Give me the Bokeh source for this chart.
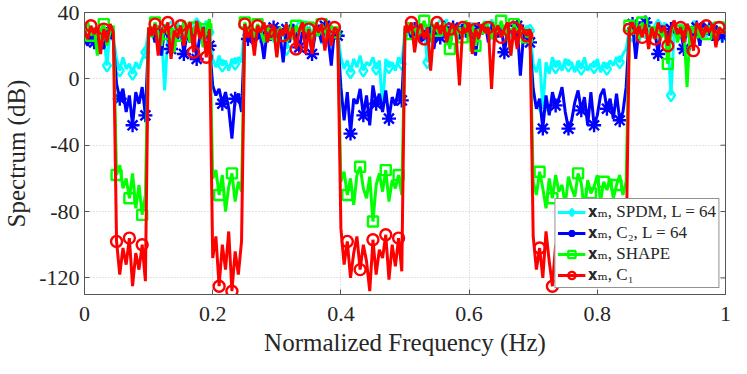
import numpy as np
from bokeh.plotting import figure
from bokeh.models import Range1d, Legend, LegendItem, FixedTicker, PrintfTickFormatter
from bokeh.embed import file_html
from bokeh.resources import INLINE

# frequency grid step (normalized Hz)
f_step = 0.005

# ---- series values (dB), listed band by band ----
spdm = (
    [28, 24, 30, 26, 31, 22, 27, 8, 30, 25]
    + [12, 5, 13, 6, 9, 3, 10, 6, 12, 16]
    + [30, 27, 33, 24, 29, -7, 26, 31, 22, 34, 28, 25, 31, 23, 29, 33, 26, 30, 35, 28]
    + [12, 7, 14, 8, 11, 5, 12, 9, 13, 10]
    + [33, 27, 30, 24, 31, 28, 34, 22, 29, 26, 32, 25, 30, 18, 28, 33, 24, 31, 27, 35,
       23, 30, 26, 32, 21, 29, 34, 25, 30, 27]
    + [13, 6, 11, 4, 12, 7, 14, 5, 10, 8, 13, 6, 11, -18, 12, 7, 10, 5, 13, 9]
    + [30, 26, 33, 28, 35, 24, 31, 10, 34, 29, 25, 32, 28, 36, 23, 30, 27, 33, 26, 31,
       29, 34, 24, 30, 28, 35, 26, 32, 22, 29, 33, 27, 31, 25, 34, 28, 30, 26, 32, 29]
    + [9, 4, 12, -18, 10, 3, 13, 7, 11, 5, 12, 8, 10, 4, 11, 6, 13, 5, 9, 7,
       12, 4, 10, 6, 11, 8, 13, 10, 15, 18]
    + [30, 26, 33, 22, 31, 28, 35, 25, 29, 32, 27, 34, 24, -10, 30, 26, 33, 28, 31, 23,
       35, 29, 27, 32, 25, 30, 34, 28, 31, 26, 29]
)

c2 = (
    [24, 20, 28, 22, 30, 25, 18, 27, 31, 23]
    + [-3, -12, -6, -20, -10, -28, -8, -15, -5, -22]
    + [26, 30, 22, 28, 14, 31, 25, 18, 29, 24, 32, 15, 27, 22, 30, 12, 26, 31, 28, 20]
    + [-4, -10, -6, -15, -8, -18, -36, -12, -9, -20]
    + [30, 24, 28, 20, 32, 26, 12, 29, 23, 31, 25, 27, 10, 30, 22, 33, 26, 19, 28, 24,
       31, 15, 27, 29, 22, 32, 25, 8, 30, 26]
    + [-5, -25, -8, -33, -12, -15, -6, -22, -10, -28, -4, -15, -9, -20, -7, -24, -11, -16, -6, -13]
    + [28, 32, 24, 30, 34, 22, 29, 26, 33, 18, 30, 25, 35, 27, 20, 31, 28, 24, 33, 29,
       26, 32, 14, 30, 27, 34, 22, 29, 31, 25, 33, 16, 28, 30, 24, 32, 2, 27, 29, 22]
    + [-6, -18, -12, -30, -10, -22, -8, -16, -12, -5, -20, -30, -25, -14, -7, -19, -11, -28, -8, -28,
       -22, -10, -6, -18, -12, -24, -9, -25, -20, -5]
    + [29, 33, 12, 30, 26, 34, 22, 31, 28, 15, 32, 27, 24, 30, 35, 26, 29, 18, 33, 28,
       25, 31, 20, 34, 27, 30, 23, 32, 29, 26, 31]
)

shape = (
    [30, 34, 26, 31, 14, 29, 33, 20, 28, 32]
    + [-58, -52, -66, -60, -72, -57, -78, -64, -82, -70]
    + [31, 25, 34, 28, 20, 33, 27, 30, 16, 32, 26, 35, 29, 22, 31, 27, 34, 19, 30, 36]
    + [-60, -55, -70, -58, -80, -65, -57, -74, -62, -68]
    + [34, 28, 31, 25, 33, 29, 22, 32, 27, 30, 14, 31, 26, 33, 28, 24, 32, 29, 35, 27,
       31, 20, 30, 26, 33, 29, 25, 32, 28, 31]
    + [-62, -56, -70, -60, -76, -58, -53, -66, -72, -59, -86, -64, -57, -68, -55, -74, -61, -66, -58, -70]
    + [30, 34, 27, 32, 24, 31, 35, 28, 22, 33, 29, 26, 34, 30, 18, 32, 27, 31, 25, 35,
       29, 33, 20, 30, 27, 34, 31, 24, 32, 28, 35, 26, 30, 14, 33, 29, 27, 31, 25, 30]
    + [-62, -70, -56, -66, -78, -60, -72, -58, -68, -64, -76, -59, -66, -71, -57, -63, -80, -61, -69, -65,
       -58, -74, -62, -67, -60, -72, -64, -58, -70, -62]
    + [32, 27, 30, 24, 34, 29, 26, 31, 28, 33, 25, 30, 9, 27, 34, 22, 29, 32, -5, 31,
       28, 33, 25, 30, 27, 32, 29, 24, 31, 28, 30]
)

c1 = (
    [29, 24, 32, 27, 31, 15, 30, 22, 33, 28]
    + [-98, -118, -102, -112, -96, -125, -105, -115, -100, -122]
    + [31, 26, 33, 14, 30, 28, 34, 12, 29, 25, 32, 20, 30, 34, 16, 35, 24, 31, 13, 30]
    + [-108, -95, -125, -100, -115, -92, -128, -104, -118, -98]
    + [33, 25, 30, 14, 32, 28, 34, 22, 29, 31, 13, 30, 26, 33, 24, 31, 18, 29, 34, 15,
       30, 15, 32, 28, 33, 17, 30, 20, 31, 29]
    + [-90, -112, -98, -120, -105, -95, -115, -100, -110, -128, -97, -118, -103, -108, -94,
       -121, -100, -113, -96, -116]
    + [32, 28, 34, 16, 30, 33, 24, 31, 5, 29, 34, 27, 32, 22, 30, 33, 25, -4, 31, 28,
       34, 15, 30, 24, 33, 29, 31, -6, 28, 32, 25, 30, 34, 14, 31, 18, 33, 29, 26, 30]
    + [-95, -115, -102, -120, -92, -110, -125, -100, -113, -97, -118, -105, -93, -122, -108,
       -99, -116, -103, -111, -94, -119, -106, -98, -114, -101, -124, -109, -96, -117, -104]
    + [30, 34, 27, 32, 25, 33, 18, 31, 24, 34, 28, 32, 20, 30, 35, 27, 31, 22, 33, 29,
       17, 34, 30, 25, 32, 28, 33, 19, 31, 29, 27]
)

labels = ["𝐱ₘ, SPDM, L = 64", "𝐱ₘ, C₂, L = 64", "𝐱ₘ, SHAPE", "𝐱ₘ, C₁"]
x_ticks = [0, 0.2, 0.4, 0.6, 0.8, 1]
y_ticks = [-120, -80, -40, 0, 40]
x_lim = (0, 1)
y_lim = (-130, 40)

FONT = "Liberation Serif"
TXT = "#262626"
AX = "#555555"
W, H = 731, 358
BL, BR, BT, BB = 84, 6, 12, 59
FW, FH = W - BL - BR, H - BT - BB

p = figure(width=W, height=H, output_backend="svg", toolbar_location=None,
           x_range=Range1d(*x_lim), y_range=Range1d(*y_lim),
           min_border_left=BL, min_border_right=BR, min_border_top=BT, min_border_bottom=BB)
p.background_fill_color = "white"
p.border_fill_color = "white"
p.outline_line_color = AX
p.outline_line_width = 1

series = [
    (spdm, "#00ffff", "diamond", 12, 3),
    (c2, "#0000ff", "asterisk", 14, 3),
    (shape, "#00ff00", "square", 10, 2),
    (c1, "#ff0000", "circle", 11, 2),
]

items = []
for (vals, col, mk, sz, off), lab in zip(series, labels):
    y = np.array(vals, dtype=float)
    x = np.arange(len(y)) * f_step
    lr = p.line(x, y, line_color=col, line_width=3)
    idx = np.arange(off, len(y), 4)
    sr = p.scatter(x[idx], y[idx], marker=mk, size=sz, line_color=col, fill_color=None,
                   line_width=2.4)
    items.append(LegendItem(label=lab, renderers=[lr, sr]))

legend = Legend(items=items, location="bottom_right")
legend.label_text_font = "'Liberation Serif', 'DejaVu Serif'"
legend.label_text_font_size = "17px"
legend.label_text_color = TXT
legend.glyph_width = 28
legend.glyph_height = 18
legend.label_height = 18
legend.label_standoff = 3
legend.spacing = 0
legend.padding = 2
legend.margin = 6
legend.border_line_color = "#262626"
legend.border_line_width = 1
legend.background_fill_alpha = 1
p.add_layout(legend, "center")

for ax in [p.xaxis[0], p.yaxis[0]]:
    ax.major_label_text_font = FONT
    ax.major_label_text_font_size = "22px"
    ax.major_label_text_color = TXT
    ax.axis_label_text_font = FONT
    ax.axis_label_text_font_size = "25px"
    ax.axis_label_text_font_style = "normal"
    ax.axis_label_text_color = TXT
    ax.axis_line_color = AX
    ax.major_tick_line_color = AX
    ax.major_tick_in = 5
    ax.major_tick_out = 0
    ax.minor_tick_line_color = None

p.xaxis[0].ticker = FixedTicker(ticks=x_ticks)
p.yaxis[0].ticker = FixedTicker(ticks=y_ticks)
p.yaxis[0].formatter = PrintfTickFormatter(format="%d")
p.xaxis[0].axis_label = "Normalized Frequency (Hz)"
p.yaxis[0].axis_label = "Spectrum (dB)"
p.xaxis[0].major_label_standoff = 12
p.yaxis[0].major_label_standoff = 5
p.xaxis[0].axis_label_standoff = 5
p.yaxis[0].axis_label_standoff = 6

# inward ticks on the top and right sides of the box
tick_px = 5
dx = tick_px * (x_lim[1] - x_lim[0]) / FW
dy = tick_px * (y_lim[1] - y_lim[0]) / FH
p.segment(x0=x_ticks, x1=x_ticks, y0=[y_lim[1]] * len(x_ticks), y1=[y_lim[1] - dy] * len(x_ticks),
          line_color=AX, line_width=1)
p.segment(x0=[x_lim[1]] * len(y_ticks), x1=[x_lim[1] - dx] * len(y_ticks), y0=y_ticks, y1=y_ticks,
          line_color=AX, line_width=1)

p.xgrid.ticker = FixedTicker(ticks=x_ticks)
p.ygrid.ticker = FixedTicker(ticks=y_ticks)
p.grid.grid_line_color = "#c8c8c8"
p.grid.grid_line_dash = "1 2"
p.grid.grid_line_width = 1

open("out.html", "w").write(file_html(p, INLINE))
